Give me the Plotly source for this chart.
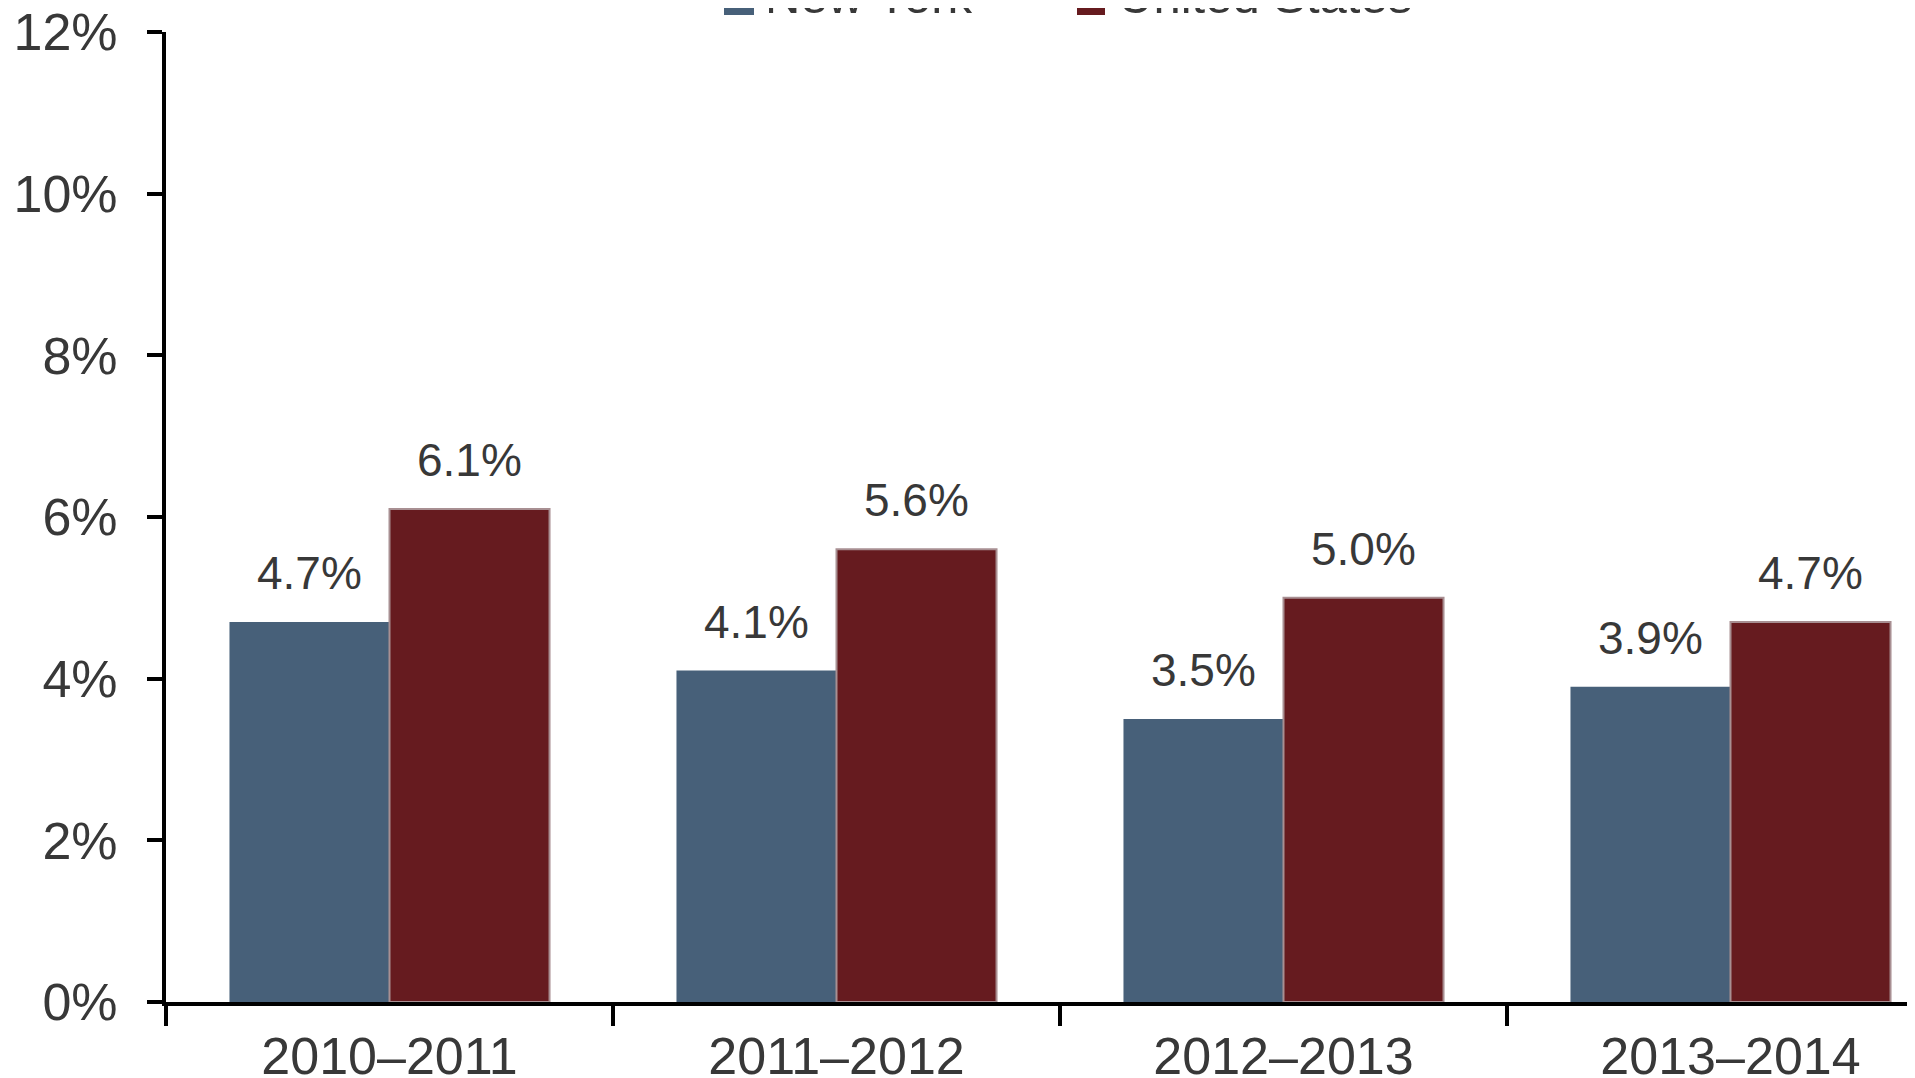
import plotly.graph_objects as go

categories = ["2010–2011", "2011–2012", "2012–2013", "2013–2014"]
series_names = ["New York", "United States"]
new_york = [4.7, 4.1, 3.5, 3.9]
united_states = [6.1, 5.6, 5.0, 4.7]
y_ticks = [0, 2, 4, 6, 8, 10, 12]
y_tick_labels = [f"{v}%" for v in y_ticks]

colors = ["#476079", "#661b1f"]
text_color = "#383838"
font_family = "Liberation Sans, Arial, sans-serif"
bargap = 0.284

# page body has an 8px margin; the figure is sized so that it fills the window
PAGE_OFF = 8
FIG_W, FIG_H = 1915 - PAGE_OFF, 1078 - PAGE_OFF

fig = go.Figure()
fig.add_trace(go.Bar(
    x=categories, y=new_york, name=series_names[0],
    marker=dict(color=colors[0], line=dict(width=0)),
    showlegend=False,
))
fig.add_trace(go.Bar(
    x=categories, y=united_states, name=series_names[1],
    marker=dict(color=colors[1], line=dict(width=2, color="#a88f92")),
    showlegend=False,
))

# value labels above bars
offset = (1 - bargap) / 4
annotations = []
for s_idx, vals in enumerate([new_york, united_states]):
    sign = -1 if s_idx == 0 else 1
    for i, v in enumerate(vals):
        annotations.append(dict(
            x=i + sign * offset, y=v, xref="x", yref="y",
            text=f"{v:.1f}%", showarrow=False,
            yanchor="bottom", xanchor="center", yshift=21,
            font=dict(size=46, color=text_color, family=font_family),
        ))

# custom legend (partially off the top of the page, as in the reference)
ML, MT, MB = 166 - PAGE_OFF, 32 - PAGE_OFF, 76
plot_w = FIG_W - ML
plot_h = FIG_H - MT - MB
def px_x(p):
    return (p - PAGE_OFF - ML) / plot_w
def px_y(p):
    return (FIG_H - MB - (p - PAGE_OFF)) / plot_h

legend_items = [(724, 754, 763), (1077, 1105, 1116)]
shapes = []
for (x0, x1, tx), name, col in zip(legend_items, series_names, colors):
    shapes.append(dict(type="rect", xref="paper", yref="paper",
                       x0=px_x(x0), x1=px_x(x1), y0=px_y(15), y1=px_y(-15),
                       fillcolor=col, line=dict(width=0)))
    annotations.append(dict(
        x=px_x(tx), y=px_y(25), xref="paper", yref="paper",
        text=name, showarrow=False, xanchor="left", yanchor="bottom",
        font=dict(size=49, color=text_color, family=font_family),
    ))

fig.update_layout(
    width=FIG_W, height=FIG_H,
    margin=dict(l=ML, r=0, t=MT, b=MB, autoexpand=False),
    paper_bgcolor="white", plot_bgcolor="white",
    barmode="group", bargap=bargap, bargroupgap=0,
    font=dict(family=font_family, size=52, color=text_color),
    annotations=annotations, shapes=shapes,
    xaxis=dict(
        type="category", range=[-0.5, -0.5 + plot_w / 447],
        showline=True, linewidth=4, linecolor="black",
        ticks="outside", tickson="boundaries", ticklen=20, tickwidth=4,
        tickcolor="black", showgrid=False, zeroline=False,
        ticklabelstandoff=6, ticklabeloverflow="allow",
        tickfont=dict(size=52, color=text_color, family=font_family),
    ),
    yaxis=dict(
        range=[0, 12], tickvals=y_ticks, ticktext=y_tick_labels,
        showline=True, linewidth=4, linecolor="black",
        ticks="outside", ticklen=15, tickwidth=4, tickcolor="black",
        ticklabelstandoff=19, ticklabeloverflow="allow",
        showgrid=False, zeroline=False,
        tickfont=dict(size=52, color=text_color, family=font_family),
    ),
)

fig.write_html("out.html")
